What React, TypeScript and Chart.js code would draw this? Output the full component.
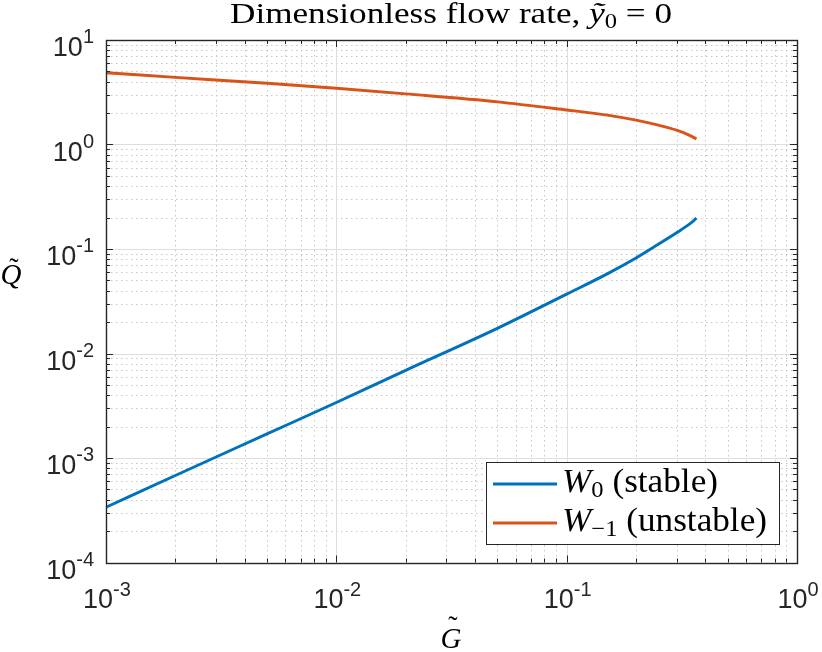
import React, { useEffect, useRef } from "react";
import { Chart, registerables } from "chart.js";

Chart.register(...registerables);

// values (log-log)
const gValues = [0.001, 0.002, 0.005, 0.01, 0.02, 0.05, 0.1, 0.15, 0.2, 0.25, 0.3, 0.34, 0.366];
const qStable = [3.38e-4, 6.8e-4, 1.7e-3, 3.4e-3, 6.9e-3, 0.0174, 0.037, 0.0578, 0.082, 0.111, 0.143, 0.172, 0.197];
const qUnstable = [4.86, 4.39, 3.85, 3.45, 3.05, 2.56, 2.14, 1.91, 1.71, 1.53, 1.37, 1.23, 1.13];

const seriesColors = ["#0072BD", "#D95319"];
const legendSubs = ["0", "\u22121"];
const legendNotes = [" (stable)", " (unstable)"];

const xExps = [-3, -2, -1, 0];
const yExps = [-4, -3, -2, -1, 0, 1];

const AXIS = "#262626";
const SANS = "'Liberation Sans', Arial, sans-serif";
const SERIF = "'Liberation Serif', 'Times New Roman', serif";

type Run = { text: string; font: string; dy?: number };

function runsWidth(ctx: CanvasRenderingContext2D, runs: Run[]) {
  let w = 0;
  for (const r of runs) {
    ctx.font = r.font;
    w += ctx.measureText(r.text).width;
  }
  return w;
}

function drawRuns(
  ctx: CanvasRenderingContext2D,
  runs: Run[],
  x: number,
  y: number,
  align: "left" | "center" | "right",
  width?: number
) {
  const natural = runsWidth(ctx, runs);
  const target = width ?? natural;
  const left = align === "center" ? x - target / 2 : align === "right" ? x - target : x;
  ctx.save();
  ctx.translate(left, y);
  ctx.scale(target / natural, 1);
  ctx.textAlign = "left";
  ctx.textBaseline = "alphabetic";
  let cx = 0;
  for (const r of runs) {
    ctx.font = r.font;
    ctx.fillText(r.text, cx, r.dy ?? 0);
    cx += ctx.measureText(r.text).width;
  }
  ctx.restore();
}

const crisp = (v: number) => Math.round(v) + 0.5;

const matlabAxes = {
  id: "matlabAxes",
  beforeDatasetsDraw(chart: any) {
    const { ctx, chartArea: a, scales } = chart;
    const xs = scales.x;
    const ys = scales.y;
    ctx.save();
    ctx.lineWidth = 1;
    // minor grid (dotted)
    ctx.strokeStyle = "#c6c6c6";
    ctx.setLineDash([1.5, 3.5]);
    ctx.beginPath();
    for (let i = 0; i < xExps.length - 1; i++) {
      for (let m = 2; m <= 9; m++) {
        const px = crisp(xs.getPixelForValue(m * Math.pow(10, xExps[i])));
        ctx.moveTo(px, a.top);
        ctx.lineTo(px, a.bottom);
      }
    }
    for (let i = 0; i < yExps.length - 1; i++) {
      for (let m = 2; m <= 9; m++) {
        const py = crisp(ys.getPixelForValue(m * Math.pow(10, yExps[i])));
        ctx.moveTo(a.left, py);
        ctx.lineTo(a.right, py);
      }
    }
    ctx.stroke();
    // major grid
    ctx.setLineDash([]);
    ctx.strokeStyle = "#dedede";
    ctx.beginPath();
    for (const e of xExps) {
      const px = crisp(xs.getPixelForValue(Math.pow(10, e)));
      ctx.moveTo(px, a.top);
      ctx.lineTo(px, a.bottom);
    }
    for (const e of yExps) {
      const py = crisp(ys.getPixelForValue(Math.pow(10, e)));
      ctx.moveTo(a.left, py);
      ctx.lineTo(a.right, py);
    }
    ctx.stroke();
    ctx.restore();
  },
  afterDraw(chart: any) {
    const { ctx, chartArea: a, scales } = chart;
    const xs = scales.x;
    const ys = scales.y;
    ctx.save();
    // ticks, inward on all four sides
    ctx.strokeStyle = AXIS;
    ctx.lineWidth = 1;
    ctx.beginPath();
    for (let i = 0; i < xExps.length; i++) {
      for (let m = 1; m <= 9; m++) {
        if (i === xExps.length - 1 && m > 1) break;
        const px = crisp(xs.getPixelForValue(m * Math.pow(10, xExps[i])));
        const len = m === 1 ? 7 : 4;
        ctx.moveTo(px, a.bottom);
        ctx.lineTo(px, a.bottom - len);
        ctx.moveTo(px, a.top);
        ctx.lineTo(px, a.top + len);
      }
    }
    for (let i = 0; i < yExps.length; i++) {
      for (let m = 1; m <= 9; m++) {
        if (i === yExps.length - 1 && m > 1) break;
        const py = crisp(ys.getPixelForValue(m * Math.pow(10, yExps[i])));
        const len = m === 1 ? 7 : 4;
        ctx.moveTo(a.left, py);
        ctx.lineTo(a.left + len, py);
        ctx.moveTo(a.right, py);
        ctx.lineTo(a.right - len, py);
      }
    }
    ctx.stroke();
    // box
    ctx.lineWidth = 1.4;
    ctx.strokeRect(crisp(a.left), crisp(a.top), Math.round(a.right - a.left), Math.round(a.bottom - a.top));

    // tick labels
    ctx.fillStyle = AXIS;
    for (const e of xExps) {
      const px = xs.getPixelForValue(Math.pow(10, e));
      drawRuns(
        ctx,
        [
          { text: "10", font: `27px ${SANS}` },
          { text: String(e), font: `20px ${SANS}`, dy: -12 },
        ],
        px + 1,
        608,
        "center"
      );
    }
    for (const e of yExps) {
      const py = ys.getPixelForValue(Math.pow(10, e));
      drawRuns(
        ctx,
        [
          { text: "10", font: `27px ${SANS}` },
          { text: String(e), font: `20px ${SANS}`, dy: -13 },
        ],
        94,
        py + 16,
        "right"
      );
    }

    // title
    ctx.fillStyle = "#000";
    drawRuns(
      ctx,
      [
        { text: "Dimensionless flow rate, ", font: `30px ${SERIF}` },
        { text: "\u1EF9", font: `italic 30px ${SERIF}` },
        { text: "0", font: `21px ${SERIF}`, dy: 5 },
        { text: " = 0", font: `30px ${SERIF}` },
      ],
      451,
      23,
      "center",
      442
    );

    // axis labels
    ctx.textAlign = "center";
    ctx.font = `italic 29px ${SERIF}`;
    ctx.fillText("G", 451, 648);
    ctx.fillText("Q", 11, 284);
    ctx.font = `28px ${SERIF}`;
    ctx.fillText("\u02DC", 453, 635);
    ctx.fillText("\u02DC", 14, 277);

    // legend
    const bx = 486.5, by = 462.5, bw = 293, bh = 82;
    ctx.fillStyle = "#fff";
    ctx.fillRect(bx, by, bw, bh);
    ctx.strokeStyle = AXIS;
    ctx.lineWidth = 1;
    ctx.strokeRect(bx, by, bw, bh);
    const rowY = [484, 523];
    const widths = [156, 205];
    chart.data.datasets.forEach((ds: any, i: number) => {
      ctx.strokeStyle = ds.borderColor;
      ctx.lineWidth = 2.8;
      ctx.beginPath();
      ctx.moveTo(493, rowY[i]);
      ctx.lineTo(557, rowY[i]);
      ctx.stroke();
      ctx.fillStyle = "#000";
      drawRuns(
        ctx,
        [
          { text: "W", font: `italic 33px ${SERIF}` },
          { text: legendSubs[i], font: `23px ${SERIF}`, dy: 5 },
          { text: legendNotes[i], font: `33px ${SERIF}` },
        ],
        562,
        rowY[i] + 8,
        "left",
        widths[i]
      );
    });
    ctx.restore();
  },
};

const App = () => {
  const canvasRef = useRef<HTMLCanvasElement | null>(null);

  useEffect(() => {
    const ctx = canvasRef.current?.getContext("2d");
    if (!ctx) return;
    const chart = new Chart(ctx, {
      type: "line",
      data: {
        datasets: [
          {
            label: "W0 (stable)",
            data: gValues.map((g, i) => ({ x: g, y: qStable[i] })),
            borderColor: seriesColors[0],
          },
          {
            label: "W-1 (unstable)",
            data: gValues.map((g, i) => ({ x: g, y: qUnstable[i] })),
            borderColor: seriesColors[1],
          },
        ].map((d) => ({
          ...d,
          borderWidth: 2.9,
          pointRadius: 0,
          fill: false,
          cubicInterpolationMode: "monotone" as const,
        })),
      },
      options: {
        responsive: false,
        maintainAspectRatio: false,
        animation: false,
        layout: { padding: { left: 106, top: 40, right: 25, bottom: 89.5 } },
        scales: {
          x: { type: "logarithmic", min: 1e-3, max: 1, display: false },
          y: { type: "logarithmic", min: 1e-4, max: 10, display: false },
        },
        plugins: {
          legend: { display: false },
          title: { display: false },
          tooltip: { enabled: false },
        },
      },
      plugins: [matlabAxes],
    });

    return () => {
      chart.destroy();
    };
  }, []);

  return (
    <div style={{ position: "absolute", left: 0, top: 0, width: 822, height: 652, background: "#fff" }}>
      <canvas ref={canvasRef} width={822} height={652} style={{ display: "block" }} />
    </div>
  );
};

export default App;
